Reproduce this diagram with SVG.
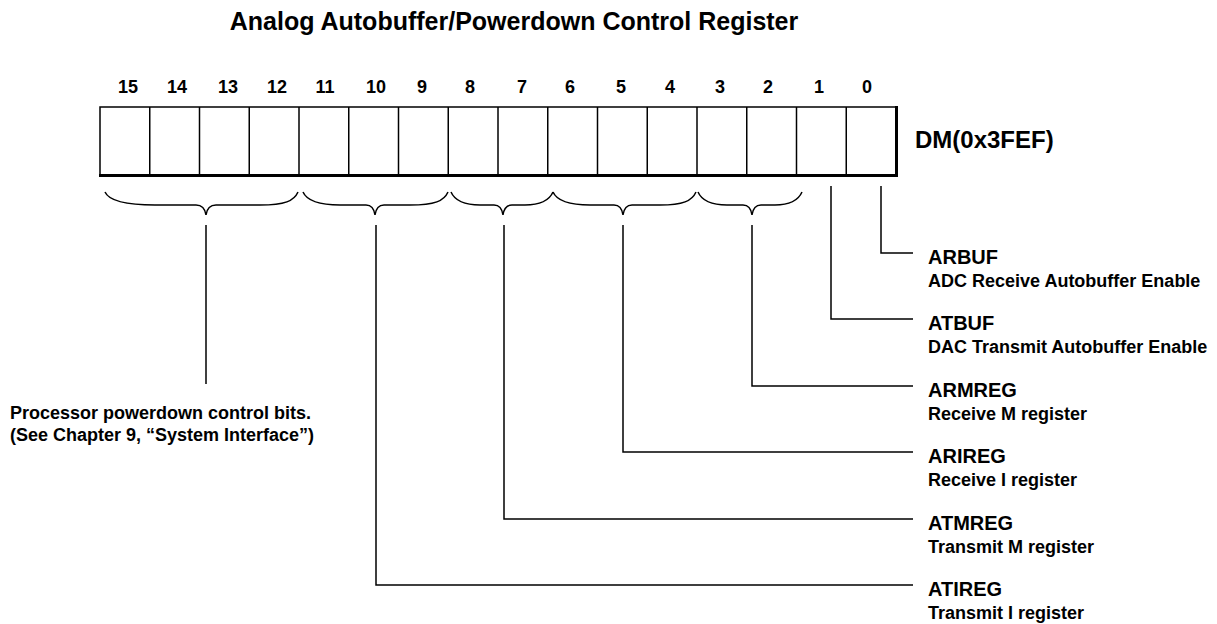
<svg xmlns="http://www.w3.org/2000/svg" width="1217" height="624" viewBox="0 0 1217 624">
<style>
text{font-family:"Liberation Sans",Arial,Helvetica,sans-serif;font-weight:bold;fill:#000}
.title{font-size:25px}
.bit{font-size:18px;text-anchor:middle}
.addr{font-size:24px}
.name{font-size:20px}
.desc{font-size:18px}
.ln{stroke:#000;stroke-width:1.5;fill:none}
</style>
<rect width="1217" height="624" fill="#fff"/>
<text class="title" x="514" y="30" text-anchor="middle">Analog Autobuffer/Powerdown Control Register</text>
<g id="register">
<rect x="100" y="107" width="796" height="68" class="ln"/>
<line x1="99" y1="175.5" x2="898" y2="175.5" stroke="#000" stroke-width="3"/>
<line x1="896.5" y1="106" x2="896.5" y2="177" stroke="#000" stroke-width="3"/>
<g class="ln">
<line x1="149.75" y1="107" x2="149.75" y2="175"/>
<line x1="199.5" y1="107" x2="199.5" y2="175"/>
<line x1="249.25" y1="107" x2="249.25" y2="175"/>
<line x1="299" y1="107" x2="299" y2="175"/>
<line x1="348.75" y1="107" x2="348.75" y2="175"/>
<line x1="398.5" y1="107" x2="398.5" y2="175"/>
<line x1="448.25" y1="107" x2="448.25" y2="175"/>
<line x1="498" y1="107" x2="498" y2="175"/>
<line x1="547.75" y1="107" x2="547.75" y2="175"/>
<line x1="597.5" y1="107" x2="597.5" y2="175"/>
<line x1="647.25" y1="107" x2="647.25" y2="175"/>
<line x1="697" y1="107" x2="697" y2="175"/>
<line x1="746.75" y1="107" x2="746.75" y2="175"/>
<line x1="796.5" y1="107" x2="796.5" y2="175"/>
<line x1="846.25" y1="107" x2="846.25" y2="175"/>
</g>
<text class="bit" x="128" y="93">15</text>
<text class="bit" x="177" y="93">14</text>
<text class="bit" x="228" y="93">13</text>
<text class="bit" x="277" y="93">12</text>
<text class="bit" x="325" y="93">11</text>
<text class="bit" x="376" y="93">10</text>
<text class="bit" x="422" y="93">9</text>
<text class="bit" x="470" y="93">8</text>
<text class="bit" x="522" y="93">7</text>
<text class="bit" x="570" y="93">6</text>
<text class="bit" x="621" y="93">5</text>
<text class="bit" x="670" y="93">4</text>
<text class="bit" x="720" y="93">3</text>
<text class="bit" x="768" y="93">2</text>
<text class="bit" x="819" y="93">1</text>
<text class="bit" x="867" y="93">0</text>
<text class="addr" x="915" y="148">DM(0x3FEF)</text>
</g>
<g id="connectors" class="ln">
<path d="M105,192 C109,201 125,205 155,205 L196,205 C202,205 205,208 206,215 C207,208 210,205 216,205 L260,205 C285,205 294,201 298,192"/>
<path d="M303,192 C307,201 320,205 340,205 L366,205 C371,205 374,208 375,215 C376,208 379,205 384,205 L410,205 C435,205 444,201 448,192"/>
<path d="M451,192 C455,201 465,205 480,205 L494,205 C499,205 502,208 503,215 C504,208 507,205 512,205 L525,205 C540,205 549,201 553,192"/>
<path d="M553,192 C557,201 570,205 590,205 L614,205 C619,205 622,208 623,215 C624,208 627,205 632,205 L660,205 C683,205 692,201 696,192"/>
<path d="M698,192 C702,201 712,205 727,205 L743,205 C748,205 751,208 752,215 C753,208 756,205 761,205 L775,205 C790,205 798,201 802,192"/>
<polyline points="881,186 881,253 913,253"/>
<polyline points="831,186 831,319 913,319"/>
<polyline points="752,225 752,386 913,386"/>
<polyline points="623,225 623,452 913,452"/>
<polyline points="504,225 504,519 913,519"/>
<polyline points="376,225 376,585 913,585"/>
<line x1="206" y1="225" x2="206" y2="384"/>
</g>
<g id="arbuf"><text class="name" x="928" y="264">ARBUF</text><text class="desc" x="928" y="287">ADC Receive Autobuffer Enable</text></g>
<g id="atbuf"><text class="name" x="928" y="330">ATBUF</text><text class="desc" x="928" y="353">DAC Transmit Autobuffer Enable</text></g>
<g id="armreg"><text class="name" x="928" y="397">ARMREG</text><text class="desc" x="928" y="420">Receive M register</text></g>
<g id="arireg"><text class="name" x="928" y="463">ARIREG</text><text class="desc" x="928" y="486">Receive I register</text></g>
<g id="atmreg"><text class="name" x="928" y="530">ATMREG</text><text class="desc" x="928" y="553">Transmit M register</text></g>
<g id="atireg"><text class="name" x="928" y="596">ATIREG</text><text class="desc" x="928" y="619">Transmit I register</text></g>
<g id="powerdown"><text class="desc" x="10" y="419">Processor powerdown control bits.</text><text class="desc" x="10" y="441">(See Chapter 9, “System Interface”)</text></g>
</svg>
